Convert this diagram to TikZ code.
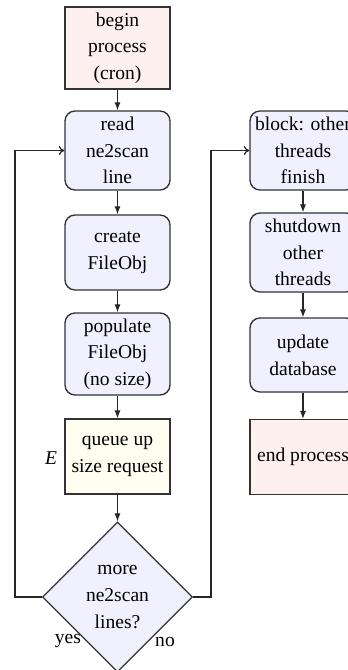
\documentclass[tikz,border=0pt]{standalone}
\usepackage{fontspec}
\setmainfont{Liberation Serif}
\usetikzlibrary{shapes.geometric,arrows.meta}
\definecolor{bordercol}{gray}{0.2}
\tikzset{
  base/.style={draw=bordercol, line width=0.6pt, align=center, inner sep=0pt,
    font=\fontsize{8.8}{12}\selectfont, text=black},
  startbox/.style={base, rectangle, fill=red!6, minimum width=47.25pt},
  procbox/.style={base, rectangle, rounded corners=4.5pt, fill=blue!6, minimum width=47.25pt},
  iobox/.style={base, rectangle, fill=yellow!6, minimum width=47.25pt},
  decbox/.style={base, diamond, fill=blue!6, minimum width=67.5pt, minimum height=67.5pt},
  flow/.style={draw=black!85, line width=0.55pt, -{Latex[length=3.6pt,width=2.8pt]}},
  loop/.style={draw=black!85, line width=0.55pt, -{To[length=2.5pt,width=4pt]}},
  lbl/.style={font=\fontsize{8.8}{12}\selectfont, inner sep=0pt}
}
\begin{document}
\begin{tikzpicture}[x=0.45pt,y=-0.45pt]
\useasboundingbox (0,0) rectangle (347,670);
\node[startbox, minimum height=36.9pt] (begin) at (117.5,48) {begin\\process\\(cron)};
\node[procbox, minimum height=35.55pt] (read) at (117.5,150.5) {read\\ne2scan\\line};
\node[procbox, minimum height=33.75pt] (create) at (117.5,252.5) {create\\FileObj};
\node[procbox, minimum height=36.9pt] (populate) at (117.5,354) {populate\\FileObj\\(no size)};
\node[iobox, minimum height=33.75pt] (queue) at (117.5,456.5) {queue up\\size request};
\node[lbl] (E) at (51,458) {\textit{E}};
\node[decbox] (more) at (117.5,597) {more\\ne2scan\\lines?};
\node[lbl] (yes) at (68,641) {yes};
\node[lbl] (no) at (165,642) {no};

\node[procbox, minimum width=47.7pt, minimum height=35.55pt] (block) at (303,150.5) {block: other\\threads\\finish};
\node[procbox, minimum width=47.7pt, minimum height=35.55pt] (shutdown) at (303,252.5) {shutdown\\other\\threads};
\node[procbox, minimum width=47.7pt, minimum height=33.3pt] (update) at (303,355) {update\\database};
\node[startbox, minimum width=47.7pt, minimum height=33.75pt] (end) at (303,457) {end process};

\coordinate (lb) at (15,597);
\coordinate (lt) at (15,150.5);
\coordinate (rb) at (211,597);
\coordinate (rt) at (211,150.5);

\draw[flow] (begin.south) -- (read.north);
\draw[flow] (read.south) -- (create.north);
\draw[flow] (create.south) -- (populate.north);
\draw[flow] (populate.south) -- (queue.north);
\draw[flow] (queue.south) -- (more.north);
\draw[flow] (block.south) -- (shutdown.north);
\draw[flow] (shutdown.south) -- (update.north);
\draw[flow] (update.south) -- (end.north);
\draw[loop] (more.west) -- (lb) -- (lt) -- (read.west);
\draw[loop] (more.east) -- (rb) -- (rt) -- (block.west);
\end{tikzpicture}
\end{document}
